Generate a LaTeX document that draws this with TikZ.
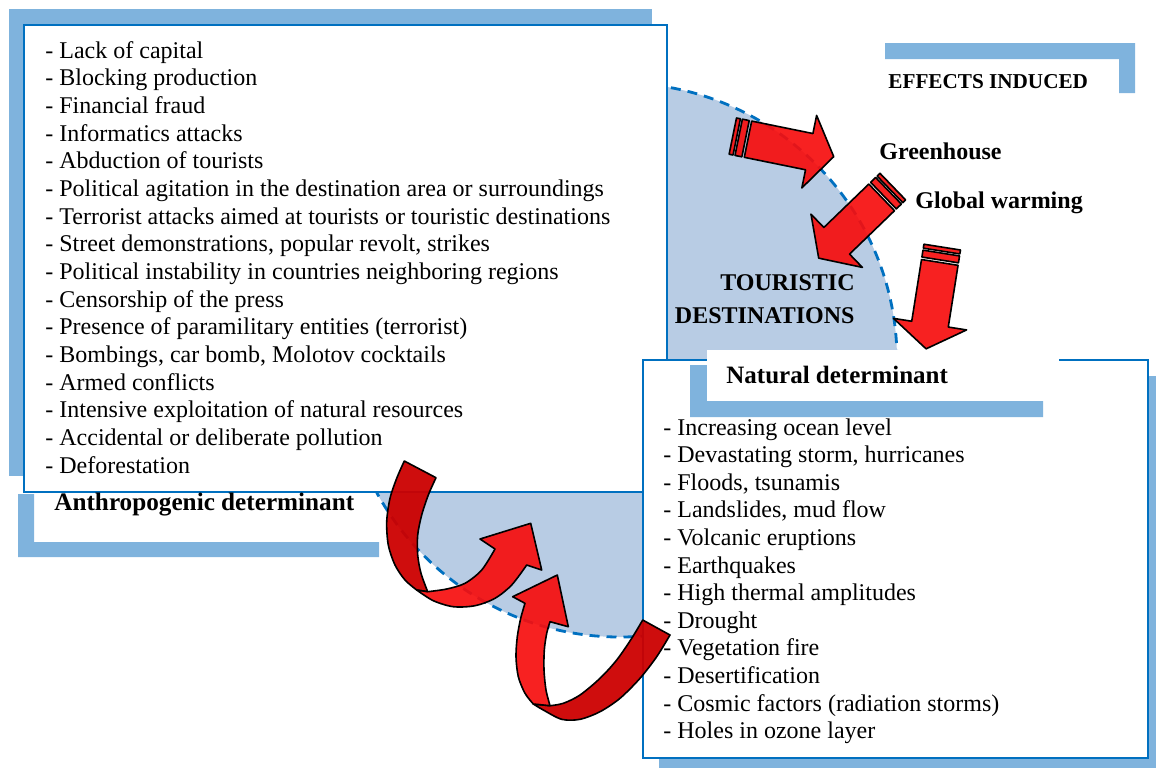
\documentclass[tikz,border=0pt]{standalone}
\usepackage{fontspec}
\setmainfont{Liberation Serif}
\definecolor{shadowblue}{RGB}{127,179,221}
\definecolor{boxblue}{RGB}{0,112,192}
\definecolor{zoneblue}{RGB}{184,204,228}
\definecolor{redlight}{RGB}{246,14,14}
\definecolor{reddark}{RGB}{204,0,0}
\tikzset{
    listbox/.style = {draw=boxblue, line width=0.9pt, fill=white},
    zone/.style = {fill=zoneblue, draw=boxblue, line width=1.4pt, dash pattern=on 5pt off 3.5pt},
    item/.style = {anchor=base west, inner sep=0pt, font=\fontsize{12}{14}\selectfont},
    heading/.style = {anchor=base west, inner sep=0pt, font=\fontsize{12}{14}\selectfont\bfseries},
    lightband/.style = {draw=black, line width=0.8pt, line join=round, fill=redlight, fill opacity=0.92},
    darkband/.style = {draw=black, line width=0.8pt, line join=round, fill=reddark, fill opacity=0.95},
    pics/stripearrow/.style = {code={
        \path[lightband] (0,-18.5) rectangle (4,18.5);
        \path[lightband] (6,-18.5) rectangle (13,18.5);
        \path[lightband] (15.5,-18.5) -- (78,-18.5) -- (78,-37) -- (103,0) -- (78,37) -- (78,18.5) -- (15.5,18.5) -- cycle;
    }},
}

\begin{document}
\begin{tikzpicture}[x=0.5pt, y=-0.5pt]
\useasboundingbox (0,0) rectangle (1156,767);
\clip (0,0) rectangle (1156,767);

% shadow and box of the human causes
\fill[shadowblue] (9,9) rectangle (652,476);
\path[zone] (620,360) circle[radius=138.5pt];
\path[listbox] (24,25) rectangle (667,492);
\foreach \txt [count=\i] in {Lack of capital, Blocking production, Financial fraud, Informatics attacks,
    Abduction of tourists, Political agitation in the destination area or surroundings,
    Terrorist attacks aimed at tourists or touristic destinations,
    {Street demonstrations, popular revolt, strikes},
    Political instability in countries neighboring regions, Censorship of the press,
    Presence of paramilitary entities (terrorist), {Bombings, car bomb, Molotov cocktails},
    Armed conflicts, Intensive exploitation of natural resources,
    Accidental or deliberate pollution, Deforestation}
    \node[item] (anth\i) at (45,{58+27.67*(\i-1)}) {- \txt};

% shadow and box of the natural causes
\fill[shadowblue] (659,376) rectangle (1170,780);
\path[listbox] (643,360) rectangle (1148,758);
\foreach \txt [count=\i] in {Increasing ocean level, {Devastating storm, hurricanes}, {Floods, tsunamis},
    {Landslides, mud flow}, Volcanic eruptions, Earthquakes, High thermal amplitudes, Drought,
    Vegetation fire, Desertification, Cosmic factors (radiation storms), Holes in ozone layer}
    \node[item] (nat\i) at (663,{435+27.6*(\i-1)}) {- \txt};

% labels
\fill[shadowblue] (690,365) -- (707,365) -- (707,401) -- (1043,401) -- (1043,417) -- (690,417) -- cycle;
\fill[white] (707,350) rectangle (1059,401);
\node[heading, font=\fontsize{12.5}{14}\selectfont\bfseries] (natlabel) at (726,383) {Natural determinant};
\fill[shadowblue] (18,494) -- (34,494) -- (34,542) -- (379,542) -- (379,557) -- (18,557) -- cycle;
\node[heading, font=\fontsize{12.6}{14}\selectfont\bfseries] (anthlabel) at (54,510) {Anthropogenic determinant};
\fill[shadowblue] (885,43) -- (1135,43) -- (1135,93) -- (1119,93) -- (1119,59) -- (885,59) -- cycle;
\node[heading, font=\fontsize{10.6}{13}\selectfont\bfseries] (effects) at (888,88) {EFFECTS INDUCED};
\node[heading] (green) at (879,159) {Greenhouse};
\node[heading] (warming) at (915,208) {Global warming};
\node[heading, anchor=base east] (dest1) at (855,290) {TOURISTIC};
\node[heading, anchor=base east] (dest2) at (855,323) {DESTINATIONS};

% effects arrows
\pic[rotate=-11.5] (arrowgreen) at (732.8,136.1) {stripearrow};
\pic[rotate=-136] (arrowwarm) at (892.8,186.6) {stripearrow};
\pic[rotate=-99] (arrownat) at (942.2,247.1) {stripearrow};

% curved arrows between the two determinants
\path[darkband] plot[smooth] coordinates {(404.3,461) (396.7,478.3) (390,498.3) (386.7,521.7) (388.3,545) (395,565) (405,580) (416.7,590)}
    -- plot[smooth] coordinates {(427.7,591.7) (421,573.3) (417.7,555) (417.7,535) (421.7,515) (428.3,495) (436,477.7)} -- cycle;
\path[lightband] plot[smooth] coordinates {(416.7,590) (433.3,600.7) (453.3,606.7) (475,605.7) (495,598.3) (511.7,585) (526.7,565)}
    -- (541.7,570) -- (530.7,523.3) -- (480,539)
    -- plot[smooth] coordinates {(495,549) (481.7,570) (465,583.3) (446.7,589) (427.7,591.7)} -- cycle;
\path[darkband] plot[smooth] coordinates {(670,635) (656.7,656.7) (640,678.3) (620,698.3) (600,711.7) (580,719.3) (561.7,719.3) (543.3,710) (533.3,704)}
    -- plot[smooth] coordinates {(550,705.7) (563.3,703.3) (580,695) (600,678.3) (616.7,660) (631.7,638.3) (642.7,620)} -- cycle;
\path[lightband] plot[smooth] coordinates {(533.3,704) (525,693.3) (518.3,676.7) (516,656.7) (517.3,636.7) (520.7,618.3) (525,603.3)}
    -- (512.7,596.7) -- (557.3,575) -- (568.3,626.7)
    -- plot[smooth] coordinates {(550,621.7) (546.7,633.3) (544.3,650) (544,670) (546,690) (550,705.7)} -- cycle;
\end{tikzpicture}
\end{document}
